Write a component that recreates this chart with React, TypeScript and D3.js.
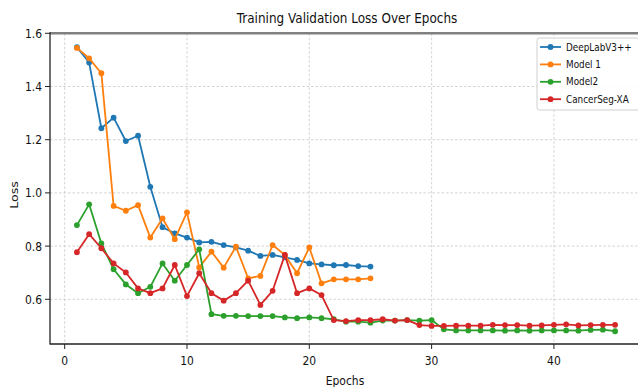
import React from "react";
import * as d3 from "d3";

const seriesNames = ["DeepLabV3++", "Model 1", "Model2", "CancerSeg-XA"];
const colors = ["#1f77b4", "#ff7f0e", "#2ca02c", "#d62728"];

const deeplab = [1.548, 1.49, 1.243, 1.283, 1.195, 1.215, 1.023, 0.871, 0.848, 0.832, 0.814, 0.816, 0.804, 0.795, 0.783, 0.763, 0.767, 0.758, 0.748, 0.735, 0.731, 0.728, 0.729, 0.725, 0.723];
const model1 = [1.545, 1.506, 1.45, 0.951, 0.933, 0.954, 0.832, 0.904, 0.826, 0.927, 0.72, 0.779, 0.719, 0.798, 0.679, 0.688, 0.804, 0.767, 0.698, 0.795, 0.66, 0.675, 0.675, 0.675, 0.679];
const model2 = [0.879, 0.957, 0.81, 0.713, 0.656, 0.623, 0.647, 0.735, 0.67, 0.729, 0.788, 0.544, 0.538, 0.538, 0.537, 0.537, 0.537, 0.532, 0.529, 0.532, 0.529, 0.525, 0.516, 0.516, 0.512, 0.52, 0.52, 0.522, 0.52, 0.522, 0.487, 0.483, 0.483, 0.483, 0.483, 0.482, 0.483, 0.482, 0.483, 0.483, 0.483, 0.482, 0.485, 0.486, 0.48];
const cancerSeg = [0.777, 0.845, 0.792, 0.735, 0.701, 0.641, 0.623, 0.641, 0.729, 0.612, 0.698, 0.623, 0.595, 0.623, 0.67, 0.579, 0.632, 0.767, 0.623, 0.641, 0.616, 0.522, 0.518, 0.522, 0.522, 0.525, 0.52, 0.522, 0.503, 0.5, 0.5, 0.501, 0.501, 0.501, 0.504, 0.503, 0.503, 0.501, 0.502, 0.504, 0.506, 0.502, 0.503, 0.504, 0.504];

const xTicks = [0, 10, 20, 30, 40];
const yTicks = [0.6, 0.8, 1.0, 1.2, 1.4, 1.6];

const W = 638, H = 387;
const SX = 0.86;
const FONT = "DejaVu Sans";

function T({ x, y, anchor = "start", size = 12.5, rotate = false, children }: any) {
  const tr = rotate
    ? `translate(${x},${y}) rotate(-90) scale(1,${SX})`
    : `translate(${x},${y}) scale(${SX},1)`;
  return (
    <text transform={tr} textAnchor={anchor} fontFamily={FONT} fontSize={size} fill="#111">
      {children}
    </text>
  );
}

export default function App() {
  const left = 50, top = 33.3, bottom = 344, right = 642;
  const x = d3.scaleLinear().domain([-1.2, 47.2]).range([left, right]);
  const y = d3.scaleLinear().domain([0.432, 1.6]).range([bottom, top]);
  const all = [deeplab, model1, model2, cancerSeg];
  const line = d3.line<number>().x((_, i) => x(i + 1)).y((d) => y(d));

  return (
    <svg width={W} height={H} style={{ position: "absolute", left: 0, top: 0, background: "#fff" }}>
      <rect width={W} height={H} fill="#fff" />
      {xTicks.map((t) => (
        <line key={"gx" + t} x1={x(t)} x2={x(t)} y1={top} y2={bottom} stroke="#c8c8c8" strokeWidth={0.8} strokeDasharray="2.5,2" />
      ))}
      {yTicks.map((t) => (
        <line key={"gy" + t} x1={left} x2={right} y1={y(t)} y2={y(t)} stroke="#c8c8c8" strokeWidth={0.8} strokeDasharray="2.5,2" />
      ))}
      {all.map((s, k) => (
        <g key={k}>
          <path d={line(s) || ""} fill="none" stroke={colors[k]} strokeWidth={1.8} strokeLinejoin="round" />
          {s.map((v, i) => (
            <circle key={i} cx={x(i + 1)} cy={y(v)} r={2.9} fill={colors[k]} />
          ))}
        </g>
      ))}
      <line x1={left} x2={right} y1={top} y2={top} stroke="#808080" strokeWidth={2.5} />
      <line x1={left} x2={right} y1={bottom} y2={bottom} stroke="#222" strokeWidth={1.3} />
      <line x1={left} x2={left} y1={top - 1} y2={bottom + 0.6} stroke="#222" strokeWidth={1.3} />
      {xTicks.map((t) => (
        <g key={"xt" + t}>
          <line x1={x(t)} x2={x(t)} y1={bottom} y2={bottom + 5} stroke="#222" strokeWidth={1} />
          <T x={x(t)} y={bottom + 21} anchor="middle">{String(t)}</T>
        </g>
      ))}
      {yTicks.map((t) => (
        <g key={"yt" + t}>
          <line x1={left - 5} x2={left} y1={y(t)} y2={y(t)} stroke="#222" strokeWidth={1} />
          <T x={left - 8} y={y(t) + 4.5} anchor="end">{t.toFixed(1)}</T>
        </g>
      ))}
      <T x={347} y={23} anchor="middle" size={14}>Training Validation Loss Over Epochs</T>
      <T x={345} y={385} anchor="middle">Epochs</T>
      <T x={18} y={195} anchor="middle" rotate>Loss</T>
      <rect x={537} y={38} width={103} height={72} rx={2.5} fill="#fff" fillOpacity={0.85} stroke="#d0d0d0" strokeWidth={1} />
      {seriesNames.map((n, k) => {
        const ly = 47 + k * 17.4;
        return (
          <g key={n}>
            <line x1={540} x2={561} y1={ly} y2={ly} stroke={colors[k]} strokeWidth={1.8} />
            <circle cx={550.5} cy={ly} r={2.9} fill={colors[k]} />
            <T x={566} y={ly + 3.6} size={10.3}>{n}</T>
          </g>
        );
      })}
    </svg>
  );
}
